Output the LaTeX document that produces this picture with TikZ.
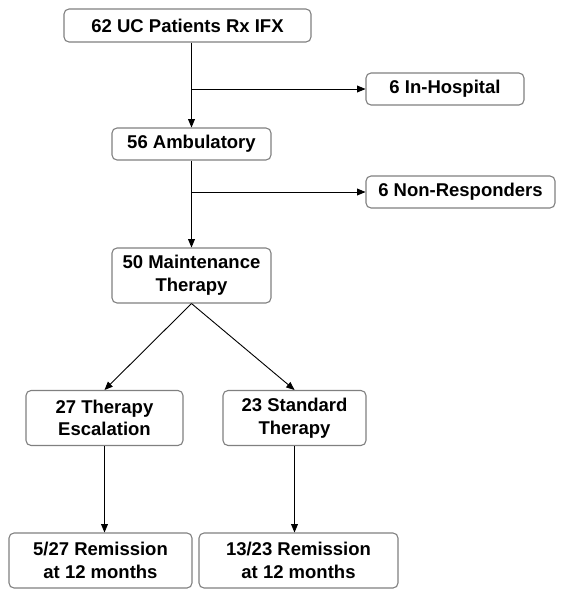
\documentclass[tikz,border=0pt]{standalone}
\usepackage{fontspec}
\setmainfont{Liberation Sans}
\usepackage{tikz}
\usetikzlibrary{calc}
\usetikzlibrary{arrows}

\begin{document}
\begin{tikzpicture}[x=1pt,y=-1pt]
  \tikzset{myedge/.style={->, line width=0.9pt, >=triangle 45}};
  \tikzset{mybox/.style={rectangle, rounded corners=5pt, draw=black!50, line width=1.1pt,
      align=center, inner sep=0pt, minimum height=32pt,
      font=\fontsize{18.5}{22.7}\selectfont\bfseries}};
  \tikzset{tallbox/.style={mybox, minimum height=55pt}};
  \useasboundingbox (0,0) rectangle (566,600);

  \node[mybox, minimum width=247pt, minimum height=33pt] (pts) at (187.5,25.5) {62 UC Patients Rx IFX};
  \node[mybox, minimum width=158pt] (hosp) at (445,89) {6 In-Hospital};
  \node[mybox, minimum width=159pt] (amb) at (191.5,144) {56 Ambulatory};
  \node[mybox, minimum width=189pt] (nonresp) at (460.5,192) {6 Non-Responders};
  \node[tallbox, minimum width=159pt] (maint) at (191.5,275.5) {50 Maintenance\\Therapy};
  \node[tallbox, minimum width=157pt] (esc) at (104.5,418) {27 Therapy\\Escalation};
  \node[tallbox, minimum width=143pt] (std) at (294.5,418) {23 Standard\\Therapy};
  \node[tallbox, minimum width=183pt] (rem1) at (100.5,560.5) {5/27 Remission\\at 12 months};
  \node[tallbox, minimum width=199pt] (rem2) at (298.5,560.5) {13/23 Remission\\at 12 months};

  \coordinate (J1) at (amb |- hosp);
  \coordinate (J2) at (amb |- nonresp);

  \draw [myedge] (pts.south -| amb) -- (amb.north);
  \draw [myedge] (J1) -- (hosp.west);
  \draw [myedge] (amb.south) -- (maint.north);
  \draw [myedge] (J2) -- (nonresp.west);
  \draw [myedge] (maint.south) -- (esc.north);
  \draw [myedge] (maint.south) -- (std.north);
  \draw [myedge] (esc.south) -- (esc.south |- rem1.north);
  \draw [myedge] (std.south) -- (std.south |- rem2.north);

\end{tikzpicture}
\end{document}
